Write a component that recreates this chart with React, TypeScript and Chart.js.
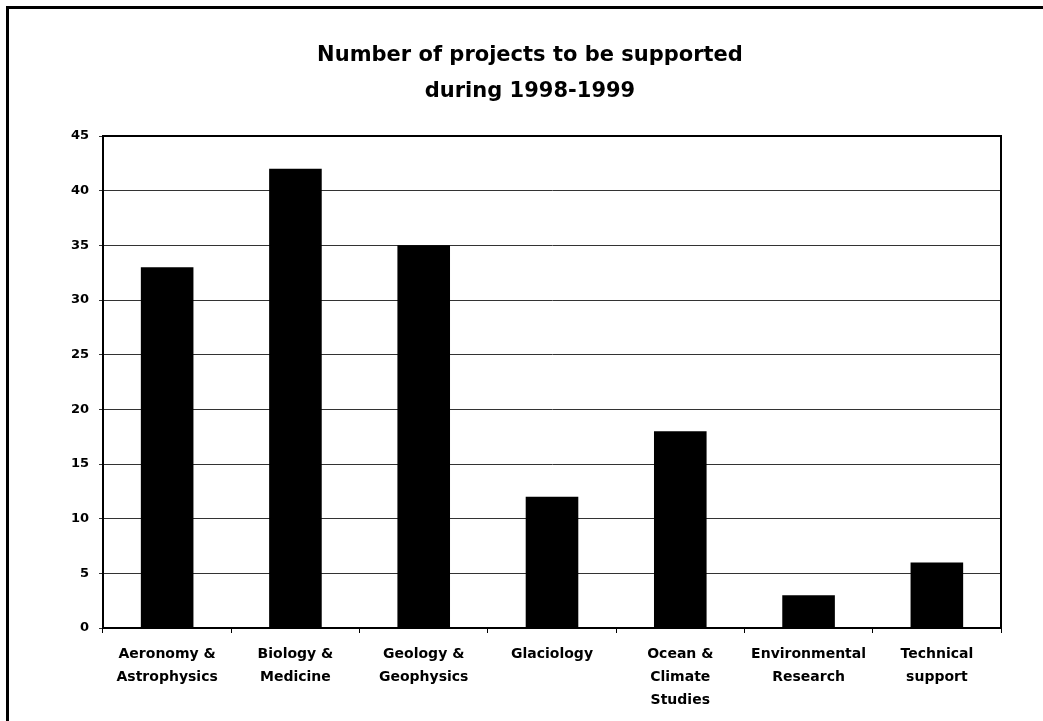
import React, { useEffect, useRef } from "react";
import { Chart, registerables } from "chart.js";

Chart.register(...registerables);

const titleLines = ["Number of projects to be supported", "during 1998-1999"];
const categories = [
  ["Aeronomy &", "Astrophysics"],
  ["Biology &", "Medicine"],
  ["Geology &", "Geophysics"],
  ["Glaciology"],
  ["Ocean &", "Climate", "Studies"],
  ["Environmental", "Research"],
  ["Technical", "support"],
];
const projectCounts = [33, 42, 35, 12, 18, 3, 6];
const yMin = 0;
const yMax = 45;
const yStep = 5;

const FONT = "'DejaVu Sans', Arial, sans-serif";

const framePlugin = {
  id: "frame",
  afterDraw(chart: any) {
    const { ctx, chartArea } = chart;
    ctx.save();
    ctx.strokeStyle = "#000";
    ctx.lineWidth = 2;
    ctx.beginPath();
    ctx.moveTo(chartArea.left, chartArea.top);
    ctx.lineTo(chartArea.right, chartArea.top);
    ctx.lineTo(chartArea.right, chartArea.bottom);
    ctx.stroke();
    ctx.restore();
  },
};

const titlePlugin = {
  id: "centeredTitle",
  afterDraw(chart: any) {
    const { ctx } = chart;
    ctx.save();
    ctx.fillStyle = "#000";
    ctx.font = `bold 21px ${FONT}`;
    ctx.textAlign = "center";
    ctx.textBaseline = "alphabetic";
    const cx = 530;
    const baselines = [61, 97];
    titleLines.forEach((line, i) => ctx.fillText(line, cx, baselines[i]));
    ctx.restore();
  },
};

export default function App() {
  const canvasRef = useRef<HTMLCanvasElement | null>(null);

  useEffect(() => {
    if (!canvasRef.current) return;
    const chart = new Chart(canvasRef.current, {
      type: "bar",
      data: {
        labels: categories as any,
        datasets: [
          {
            data: projectCounts,
            backgroundColor: "#000",
            borderWidth: 0,
            barPercentage: 0.41,
            categoryPercentage: 1,
          },
        ],
      },
      plugins: [framePlugin, titlePlugin],
      options: {
        animation: false,
        responsive: true,
        maintainAspectRatio: false,
        layout: { padding: { left: 0, right: 42, top: 136, bottom: 0 } },
        plugins: {
          legend: { display: false },
          tooltip: { enabled: false },
          title: { display: false },
        },
        scales: {
          x: {
            grid: {
              display: true,
              drawOnChartArea: false,
              drawTicks: true,
              tickLength: 5,
              color: "#000",
              lineWidth: 1,
            },
            border: { display: true, color: "#000", width: 2 },
            ticks: {
              color: "#000",
              font: { family: FONT, size: 14, weight: "bold", lineHeight: 1.65 },
              padding: 10,
              maxRotation: 0,
              autoSkip: false,
            },
            afterFit(scale: any) {
              scale.height = 93;
            },
          },
          y: {
            min: yMin,
            max: yMax,
            grid: {
              color: "#333",
              lineWidth: 1,
              drawTicks: true,
              tickLength: 4,
            },
            border: { display: true, color: "#000", width: 2 },
            ticks: {
              stepSize: yStep,
              color: "#000",
              font: { family: FONT, size: 13, weight: "bold" },
              padding: 10,
            },
            afterFit(scale: any) {
              scale.width = 103;
            },
          },
        },
      } as any,
    });
    return () => chart.destroy();
  }, []);

  return (
    <div
      style={{
        position: "fixed",
        left: 0,
        top: 0,
        width: 1043,
        height: 721,
        background: "#fff",
      }}
    >
      <div
        style={{
          position: "absolute",
          left: 6,
          top: 6,
          right: 0,
          bottom: 0,
          borderLeft: "3px solid #000",
          borderTop: "3px solid #000",
        }}
      />
      <div style={{ position: "absolute", left: 0, top: 0, width: 1043, height: 721 }}>
        <canvas ref={canvasRef} />
      </div>
    </div>
  );
}
